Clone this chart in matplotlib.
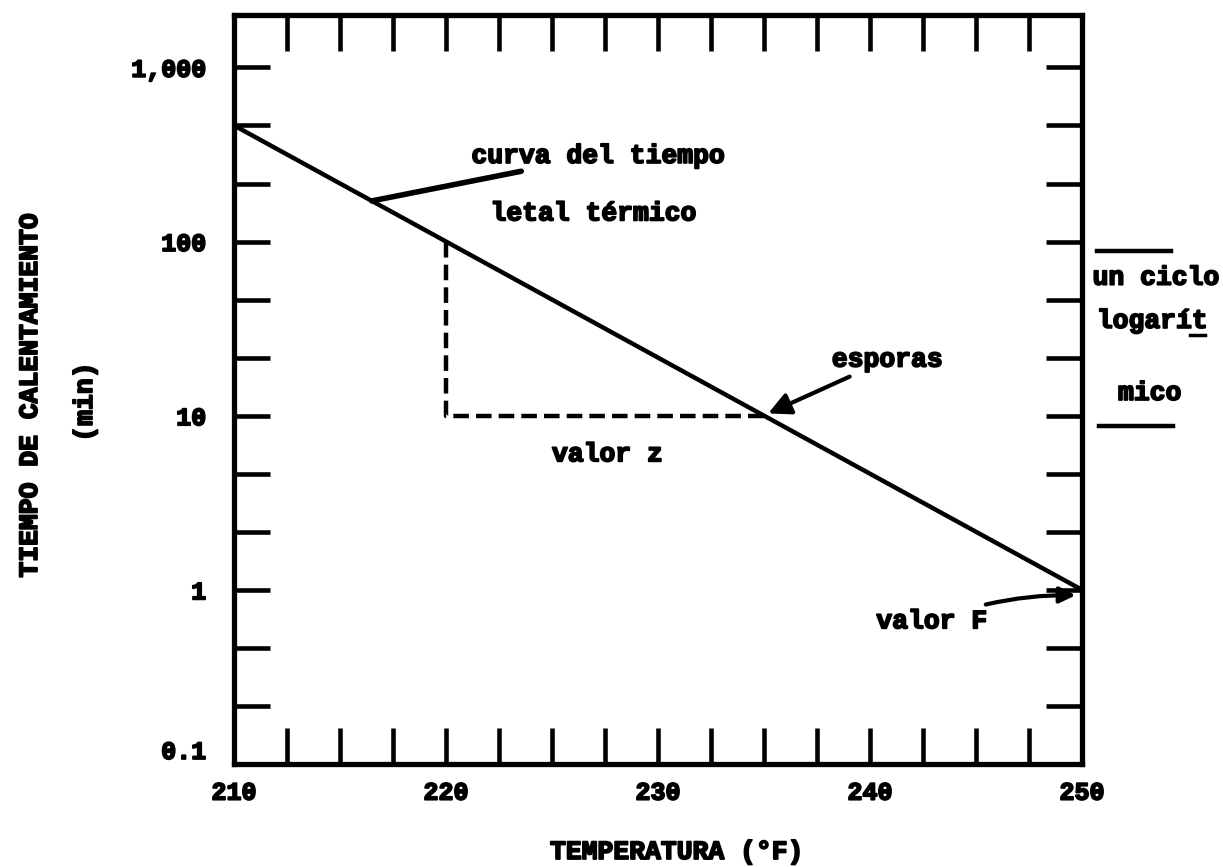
import matplotlib
matplotlib.use('Agg')
import matplotlib.pyplot as plt
import matplotlib.patheffects as pe
from matplotlib.ticker import FixedLocator, MultipleLocator, NullFormatter

plt.rcParams['font.family'] = ['Liberation Mono', 'DejaVu Sans Mono']
plt.rcParams['font.weight'] = 'bold'
plt.rcParams['font.size'] = 19

# curva del tiempo letal termico
temperatura = [210, 220, 235, 250]
tiempo = [464, 100, 10, 1]

# construccion del valor z
z_temp = [220, 220, 235]
z_tiempo = [100, 10, 10]

x_ticks = [210, 220, 230, 240, 250]
y_ticks = [0.1, 1, 10, 100, 1000]
y_labels = ['0.1', '1', '10', '100', '1,000']
y_minor = [0.215, 0.464, 2.15, 4.64, 21.5, 46.4, 215, 464]

bold = [pe.withStroke(linewidth=1.3, foreground='black')]

fig = plt.figure(figsize=(12.23, 8.67), dpi=100)
ax = fig.add_axes([0.1913, 0.1188, 0.6934, 0.864])

ax.plot(temperatura, tiempo, color='black', lw=3.2, solid_capstyle='butt')
ax.plot(z_temp, z_tiempo, color='black', lw=3.2, dashes=(3.5, 1.6))

ax.set_yscale('log')
ax.set_xlim(210, 250)
ax.set_ylim(0.1, 2000)

ax.set_xticks(x_ticks)
ax.set_xticklabels([str(t) for t in x_ticks])
ax.xaxis.set_minor_locator(MultipleLocator(2.5))
ax.yaxis.set_major_locator(FixedLocator(y_ticks))
ax.set_yticklabels(y_labels)
ax.yaxis.set_minor_locator(FixedLocator(y_minor))
ax.yaxis.set_minor_formatter(NullFormatter())

ax.tick_params(which='both', direction='in', top=True, right=True,
               length=26, width=3.3, labelsize=18)
ax.tick_params(axis='x', pad=12)
ax.tick_params(axis='y', pad=20)
for s in ax.spines.values():
    s.set_linewidth(3.8)

for lab in ax.get_xticklabels() + ax.get_yticklabels():
    lab.set_path_effects(bold)
ax.get_yticklabels()[0].set_verticalalignment('bottom')

txts = []
txts.append(ax.annotate('curva del tiempo', xy=(216.5, 171), xytext=(221.2, 310),
                        ha='left', va='center',
                        arrowprops=dict(arrowstyle='-', lw=4, color='black',
                                        shrinkA=2, shrinkB=0)))
txts.append(ax.text(222.1, 145, 'letal térmico', ha='left', va='center'))
txts.append(ax.annotate('esporas', xy=(235.2, 10.3), xytext=(238.2, 21),
                        ha='left', va='center',
                        arrowprops=dict(arrowstyle='-|>,head_length=0.7,head_width=0.35',
                                        lw=3, color='black', shrinkA=4, shrinkB=0)))
txts.append(ax.text(225.0, 6, 'valor z', ha='left', va='center'))
txts.append(ax.annotate('valor F', xy=(249.7, 0.93), xytext=(240.3, 0.66),
                        ha='left', va='center',
                        arrowprops=dict(arrowstyle='-|>,head_length=0.5,head_width=0.25',
                                        lw=3, color='black', shrinkA=6, shrinkB=0,
                                        connectionstyle='arc3,rad=-0.1')))

# un ciclo logaritmico (fuera del eje)
txts.append(ax.text(250.5, 62, 'un ciclo', ha='left', va='center', clip_on=False))
txts.append(ax.text(250.7, 35, 'logarít', ha='left', va='center', clip_on=False))
txts.append(ax.text(251.7, 13.5, 'mico', ha='left', va='center', clip_on=False))
ax.plot([255.1, 255.8], [29, 29], color='black', lw=2.5, clip_on=False)
ax.plot([250.7, 254.2], [88, 88], color='black', lw=3.2, clip_on=False)
ax.plot([250.8, 254.3], [8.7, 8.7], color='black', lw=3.2, clip_on=False)

txts.append(fig.text(30 / 1223, 1 - 395 / 867, 'TIEMPO DE CALENTAMIENTO',
                     rotation=90, ha='center', va='center'))
txts.append(fig.text(85 / 1223, 1 - 402 / 867, '(min)',
                     rotation=90, ha='center', va='center'))
txts.append(fig.text(677 / 1223, 1 - 852 / 867, 'TEMPERATURA (°F)',
                     ha='center', va='center'))

for t in txts:
    t.set_path_effects(bold)

fig.savefig('out.png', dpi=100, facecolor='white')
